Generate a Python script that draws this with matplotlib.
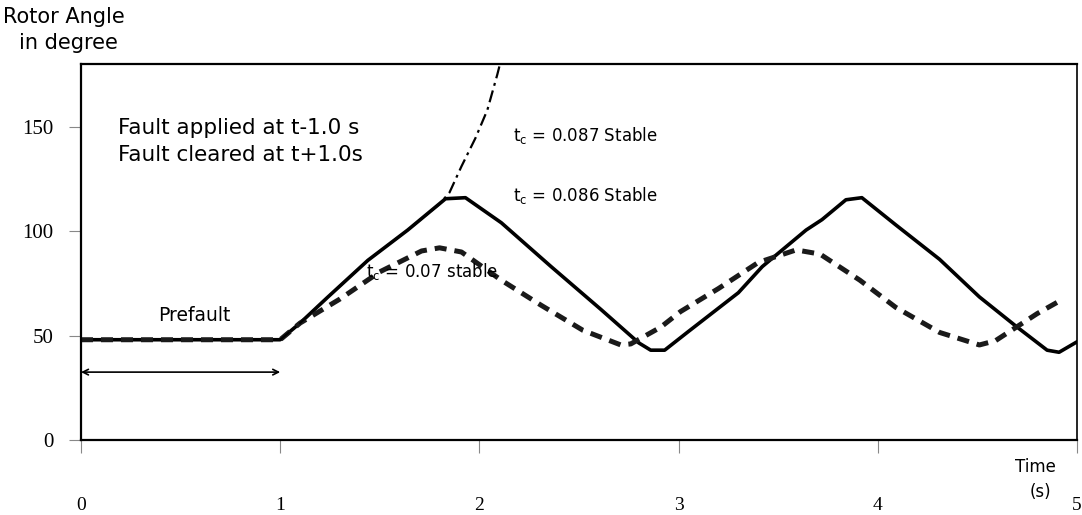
import matplotlib.pyplot as plt

plt.rcParams['mathtext.fontset'] = 'dejavusans'

# rotor angle, tc = 0.086 (solid)
t_086 = [0, 1.0, 1.10, 1.24, 1.44, 1.64, 1.83, 1.93, 2.11, 2.36, 2.61, 2.80, 2.86, 2.93,
         3.05, 3.30, 3.42, 3.64, 3.72, 3.84, 3.92, 4.09, 4.31, 4.51, 4.70, 4.85, 4.91, 5.0]
v_086 = [48, 48, 56, 68.5, 86, 100.5, 115.5, 116, 104, 83, 62.5, 46.5, 43, 43,
         52, 70.5, 83, 100.5, 105.5, 115, 116, 103, 86.5, 68.5, 54, 43, 42, 47]

# tc = 0.07 (dashed)
t_07 = [0, 1.0, 1.10, 1.30, 1.50, 1.71, 1.80, 1.91, 2.11, 2.31, 2.52, 2.71, 2.76, 2.91,
        3.01, 3.20, 3.40, 3.59, 3.71, 3.91, 4.09, 4.31, 4.51, 4.59, 4.80, 4.93]
v_07 = [48, 48, 56, 67.5, 80.5, 90.5, 92, 90, 76.5, 64.5, 52.5, 45.5, 46, 54,
        61.5, 72.5, 85, 91, 89, 76.5, 63.5, 51.5, 45.5, 47.5, 60.5, 67.5]

# tc = 0.087 (dash-dot, runs away)
t_087 = [1.0, 1.10, 1.24, 1.44, 1.64, 1.80, 1.85, 1.91, 1.98, 2.04, 2.09, 2.13]
v_087 = [48, 56, 68.5, 86, 100.5, 113, 118.5, 131, 144.5, 158, 175, 190]

xticks = [0, 1, 2, 3, 4, 5]
yticks = [0, 50, 100, 150]

fig = plt.figure(figsize=(10.82, 5.15), dpi=100)
ax = fig.add_axes([81 / 1082, 1 - 440 / 515, 996 / 1082, 376 / 515])

ax.plot(t_086, v_086, color='black', lw=2.6, solid_joinstyle='round')
ax.plot(t_07, v_07, color='#1a1a1a', lw=3.6, linestyle=(0, (2.4, 1.6)))
ax.plot(t_087, v_087, color='black', lw=1.6, linestyle=(0, (5.5, 2.2, 1.3, 2.2)))

ax.set_xlim(0, 5)
ax.set_ylim(0, 180)
ax.set_xticks(xticks)
ax.set_yticks(yticks)
ax.set_xticklabels([str(x) for x in xticks], family='Liberation Serif', fontsize=14)
ax.set_yticklabels([str(y) for y in yticks], family='Liberation Serif', fontsize=15)
ax.tick_params(axis='x', direction='out', length=9, width=0.8, color='#888888', pad=32)
ax.tick_params(axis='y', direction='out', length=9, width=0.8, color='#888888', pad=11)

for side in ['left', 'top', 'bottom']:
    ax.spines[side].set_linewidth(1.6)
ax.spines['right'].set_linewidth(1.2)

txt = dict(family='DejaVu Sans', color='black')
ax.text(0.186, 149.5, 'Fault applied at t-1.0 s', fontsize=15.5, va='center', **txt)
ax.text(0.186, 136.5, 'Fault cleared at t+1.0s', fontsize=15.5, va='center', **txt)
ax.text(2.17, 146, r't$_{\mathregular{c}}$ = 0.087 Stable', fontsize=12, va='center', **txt)
ax.text(2.17, 117, r't$_{\mathregular{c}}$ = 0.086 Stable', fontsize=12, va='center', **txt)
ax.text(1.43, 80.5, r't$_{\mathregular{c}}$ = 0.07 stable', fontsize=12, va='center', **txt)
ax.text(0.57, 59.5, 'Prefault', fontsize=13.5, ha='center', va='center', **txt)

ax.annotate('', xy=(0.0, 32.5), xytext=(1.0, 32.5),
            arrowprops=dict(arrowstyle='<->', color='black', lw=1.2, shrinkA=0, shrinkB=0))

ax.text(0.958, -0.072, 'Time', transform=ax.transAxes, fontsize=12, ha='center', va='center', **txt)
ax.text(0.963, -0.138, '(s)', transform=ax.transAxes, fontsize=12, ha='center', va='center', **txt)

fig.text(64 / 1082, 1 - 17 / 515, 'Rotor Angle', fontsize=15, ha='center', va='center', **txt)
fig.text(68 / 1082, 1 - 43 / 515, 'in degree', fontsize=15, ha='center', va='center', **txt)

plt.savefig('out.png', dpi=100)
